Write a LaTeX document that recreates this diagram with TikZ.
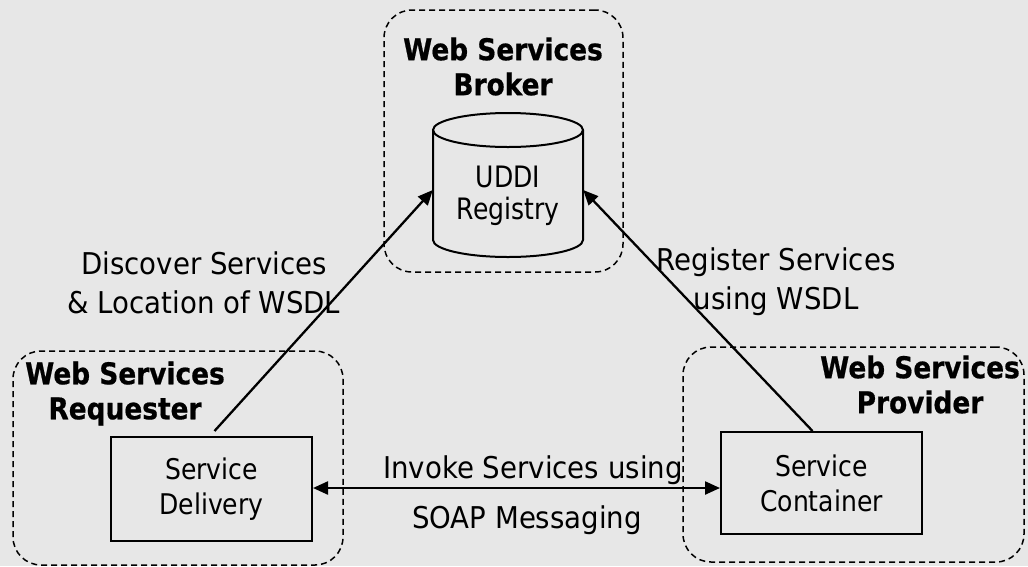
\documentclass[tikz,border=0pt]{standalone}
\usepackage{fontspec}
\setmainfont{DejaVu Sans}
\newfontfamily\lblf{DejaVu Sans}[FakeStretch=0.92]
\newfontfamily\boxf{DejaVu Sans}[FakeStretch=0.88]
\newfontfamily\regf{DejaVu Sans}[FakeStretch=0.85]
\newfontfamily\ttlf{DejaVu Sans}[FakeStretch=0.88, BoldFeatures={FakeBold=0.6}]
\usetikzlibrary{arrows.meta}
\definecolor{bg}{RGB}{231,231,231}
\begin{document}
\begin{tikzpicture}[x=1pt,y=-1pt,
  grp/.style={draw, dash pattern=on 6pt off 4pt, line width=1.5pt, rounded corners=28pt, inner sep=0pt},
  title/.style={font=\ttlf\fontsize{30}{35}\selectfont\bfseries, align=center, inner sep=0pt},
  lbl/.style={font=\lblf\fontsize{30}{39}\selectfont, align=center, inner sep=0pt},
  comp/.style={draw, line width=2pt, minimum width=201pt, inner sep=0pt, font=\boxf\fontsize{28.5}{35}\selectfont, align=center},
  conn/.style={line width=2.3pt, -{Triangle[length=15pt,width=13pt]}},
  biconn/.style={line width=2.3pt, {Triangle[length=15pt,width=13pt]}-{Triangle[length=15pt,width=13pt]}}]
\fill[bg] (0,0) rectangle (1028,566);
\useasboundingbox (0,0) rectangle (1028,566);

% groups
\node[grp, minimum width=239pt, minimum height=262pt] (broker) at (503.5,141) {};
\node[grp, minimum width=330pt, minimum height=214pt] (requester) at (178,458) {};
\node[grp, minimum width=341pt, minimum height=215pt] (provider) at (853.5,454.5) {};

\node[title] (brokert) at (503,66.5) {Web Services\\Broker};
\node[title] (requestert) at (125,393.5) {Web Services\\Requester};
\node[title] (providert) at (920,384.5) {Web Services\\Provider};

% UDDI registry cylinder
\draw[line width=2pt] (508,130) ellipse [x radius=75pt, y radius=17pt];
\draw[line width=2pt] (433,130) -- (433,240) arc[start angle=180, end angle=360, x radius=75pt, y radius=17pt] -- (583,130);
\node[minimum width=150pt, inner sep=0pt, font=\regf\fontsize{29.5}{32}\selectfont, align=center] (reg) at (508,196) {UDDI\\Registry};

% components
\node[comp, minimum height=104pt] (delivery) at (211.5,489) {Service\\Delivery};
\node[comp, minimum height=102pt] (container) at (821.5,483) {Service\\Container};

% labels
\node[lbl] (discover) at (204,282.5) {Discover Services\\\& Location of WSDL};
\node[lbl] (register) at (776,282) {Register Services\\using WSDL};
\node[lbl] (invoke) at (533,470) {Invoke Services using};
\node[lbl] (soap) at (527,520) {SOAP Messaging};

% connectors
\draw[conn] ([shift={(3,-5)}]delivery.north) -- ([yshift=6pt]reg.west);
\draw[conn] ([xshift=-9pt]container.north) -- ([yshift=6pt]reg.east);
\draw[biconn] ([yshift=1pt]delivery.east) -- ([yshift=1pt]delivery.east -| container.west);
\end{tikzpicture}
\end{document}
